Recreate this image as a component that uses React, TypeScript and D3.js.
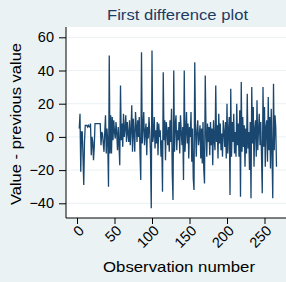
import { useEffect, useRef } from 'react';
import * as d3 from 'd3';

const startObs = 3;
// first differences, obs 3..266
const diffs: number[] = [
    5, 14, -21, 3, 3, -12, -29, -3, 7, 7,
    7, 6, 7, 6, 6, 8, -11, 0, -3, -14,
    -6, 8, 8, 8, 8, 8, 8, 8, 8, -5,
    3, 2, -4, -9, 3, 13, -10, 5, -3, -30,
    49, -10, 13, -10, 12, -2, 10, 3,
    -1, 9, 2, -8, 6, -5, -17, 31, -2, 8,
    -6, 14, 0, 5, 13, -3, 9, 2, -3, 10,
    -5, 4, 19, -9, 11, 2, -9, 15, 7, -3,
    10, 0, 12, -10, -26,
    51, -4, 6, 15, -5, 3, 8, -11, 6, -1, 12, 3, -10, -43,
    52, -3, 1, 12, -7, 4, -4, 9, -11, 8, 0, 4, -12, -2, -33,
    39, -2, 10, -14, 9, 4, -5, 6, -9, 10, -3, 17, -22, -38,
    40, -9, 7, 13, -8, 4, -2, 9, -10, 13, 3, -5, 6, -26,
    40, -9, 2, 15, -4, 8, -13, 6, 0, 15, -15, 5, -25, -32,
    45, 5, -12, 4, 10, -5, 0, 7, -13, 5, -16, 9, -19, -28,
    37, 4, -12, 8, -3, 6, -11, 9, -5, 5, -17, 10, -2, -8,
    31, -3, 7, -13, 14, -4, 8, -8, 2, -12, 10, 3, -6, 9, -13, 20, -10, 4, 12, -35,
    29, -12, 9, -3, 14, -10, 3, -12, 20, -5, 8, -12, 16, -36,
    33, -9, 12, -6, 7, -18, 5, -10, 26, -7, 3, -20, 9, -37,
    30, -4, 18, -18, 5, 10, -12, 22, -8, 4, 14, -5, 9, -11, -34,
    30, -6, 18, -18, 6, 10, -15, 24, -8, 12, -19, 17, -9, -37,
    32, -8, 13, 6, -18,
];
const xTicks = [0, 50, 100, 150, 200, 250];
const yTicks = [-40, -20, 0, 20, 40, 60];

const W = 286;
const H = 282;
const font = 'Liberation Sans, Arial, sans-serif';

export default function App() {
    const svgRef = useRef<SVGSVGElement>(null);

    useEffect(() => {
        if (!svgRef.current) return;
        const svg = d3.select(svgRef.current);
        svg.selectAll('*').remove();

        const plot = { left: 66, right: 286, top: 27, bottom: 218 };
        const x = d3.scaleLinear().domain([0, 250]).range([77, 264.5]);
        const y = d3.scaleLinear().domain([-40, 60]).range([203.3, 37.3]);

        svg.append('rect').attr('width', W).attr('height', H).attr('fill', '#eaf2f3');
        svg.append('rect')
            .attr('x', plot.left).attr('y', plot.top)
            .attr('width', plot.right - plot.left).attr('height', plot.bottom - plot.top)
            .attr('fill', '#ffffff');

        // gridlines
        svg.append('g').selectAll('line').data(yTicks).join('line')
            .attr('x1', plot.left).attr('x2', plot.right)
            .attr('y1', d => y(d)).attr('y2', d => y(d))
            .attr('stroke', '#eaf2f3').attr('stroke-width', 1);

        const data = diffs.map((v, i) => [startObs + i, v] as [number, number]);
        const line = d3.line<[number, number]>().x(d => x(d[0])).y(d => y(d[1]));
        svg.append('path').datum(data)
            .attr('d', line)
            .attr('fill', 'none')
            .attr('stroke', '#1a476f')
            .attr('stroke-width', 1.3);

        // y axis
        const yAxis = svg.append('g').attr('transform', `translate(${plot.left},0)`)
            .call(d3.axisLeft(y).tickValues(yTicks).tickSize(7).tickPadding(5).tickSizeOuter(0));
        yAxis.select('.domain').remove();
        yAxis.append('line').attr('x1', 0).attr('x2', 0).attr('y1', plot.top).attr('y2', plot.bottom)
            .attr('stroke', '#000').attr('stroke-width', 1);
        yAxis.selectAll('.tick line').attr('stroke', '#000');
        yAxis.selectAll('text').attr('font-family', font).attr('font-size', 14.5).attr('fill', '#000');

        // x axis
        const xAxis = svg.append('g').attr('transform', `translate(0,${plot.bottom})`)
            .call(d3.axisBottom(x).tickValues(xTicks).tickSize(6).tickSizeOuter(0));
        xAxis.select('.domain').remove();
        xAxis.append('line').attr('x1', plot.left).attr('x2', plot.right).attr('y1', 0).attr('y2', 0)
            .attr('stroke', '#000').attr('stroke-width', 1);
        xAxis.selectAll('.tick line').attr('stroke', '#000');
        xAxis.selectAll('text')
            .attr('font-family', font).attr('font-size', 14.5).attr('fill', '#000')
            .attr('text-anchor', 'end')
            .attr('dy', null)
            .attr('y', 0)
            .attr('transform', 'translate(4,10) rotate(-45)')
            .attr('dominant-baseline', 'central');

        svg.append('text')
            .attr('x', 177.5).attr('y', 20)
            .attr('text-anchor', 'middle')
            .attr('font-family', font).attr('font-size', 15)
            .attr('textLength', 141).attr('lengthAdjust', 'spacingAndGlyphs')
            .attr('fill', '#1e3a64')
            .text('First difference plot');

        svg.append('text')
            .attr('x', 179).attr('y', 272)
            .attr('text-anchor', 'middle')
            .attr('font-family', font).attr('font-size', 14.5)
            .attr('textLength', 152).attr('lengthAdjust', 'spacingAndGlyphs')
            .attr('fill', '#000')
            .text('Observation number');

        svg.append('text')
            .attr('transform', 'translate(21,124) rotate(-90)')
            .attr('text-anchor', 'middle')
            .attr('font-family', font).attr('font-size', 15.5)
            .attr('textLength', 162).attr('lengthAdjust', 'spacingAndGlyphs')
            .attr('fill', '#000')
            .text('Value - previous value');
    }, []);

    return (
        <svg ref={svgRef} width={W} height={H} style={{ position: 'absolute', left: 0, top: 0 }}></svg>
    );
}
